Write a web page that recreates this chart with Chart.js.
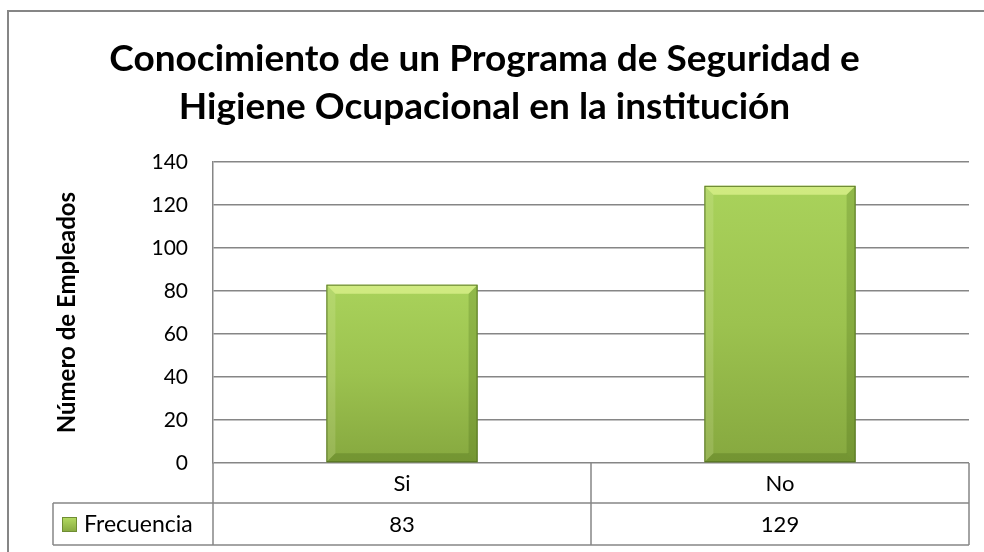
<!DOCTYPE html>
<html>
<head>
<meta charset="utf-8">
<script src="https://cdn.jsdelivr.net/npm/chart.js@4.4.0/dist/chart.umd.min.js"></script>
<style>
  html, body { margin: 0; padding: 0; background: #fff; }
</style>
</head>
<body>
<canvas id="chart" width="984" height="552"></canvas>
<script>
const categories = ['Si', 'No'];
const frecuencia = [83, 129];
const seriesName = 'Frecuencia';
const yTicks = [0, 20, 40, 60, 80, 100, 120, 140];
const titleLines = ['Conocimiento de un Programa de Seguridad e', 'Higiene Ocupacional en la institución'];
const yTitle = 'Número de Empleados';

const FONT = 'Lato, "Open Sans", sans-serif';
const LINE = '#868686';

// gradient for each bar, from its top to the axis
function barFill(context) {
  const chart = context.chart;
  const area = chart.chartArea;
  if (!area || context.parsed == null) return '#98bd4c';
  const top = chart.scales.y.getPixelForValue(context.parsed.y);
  const g = chart.ctx.createLinearGradient(0, top, 0, area.bottom);
  g.addColorStop(0, '#a9d25b');
  g.addColorStop(0.5, '#9cc24f');
  g.addColorStop(1, '#86a83f');
  return g;
}

const frame = {
  id: 'frame',
  beforeDraw(chart) {
    const ctx = chart.ctx;
    ctx.save();
    ctx.strokeStyle = LINE;
    ctx.lineWidth = 2;
    ctx.beginPath();
    ctx.moveTo(8, 560);
    ctx.lineTo(8, 11);
    ctx.lineTo(990, 11);
    ctx.stroke();
    ctx.restore();
  }
};

function poly(ctx, pts, fill) {
  ctx.beginPath();
  ctx.moveTo(pts[0][0], pts[0][1]);
  for (let i = 1; i < pts.length; i++) ctx.lineTo(pts[i][0], pts[i][1]);
  ctx.closePath();
  ctx.fillStyle = fill;
  ctx.fill();
}

const bevel = {
  id: 'bevel',
  afterDatasetsDraw(chart) {
    const ctx = chart.ctx;
    ctx.save();
    chart.getDatasetMeta(0).data.forEach(bar => {
      const l = bar.x - bar.width / 2, r = bar.x + bar.width / 2;
      const t = bar.y, b = bar.base, d = 9;
      poly(ctx, [[l, t], [r, t], [r - d, t + d], [l + d, t + d]], 'rgba(240,255,160,0.55)');
      poly(ctx, [[l, t], [l + d, t + d], [l + d, b - d], [l, b]], 'rgba(255,255,220,0.14)');
      poly(ctx, [[r, t], [r, b], [r - d, b - d], [r - d, t + d]], 'rgba(40,70,0,0.18)');
      poly(ctx, [[l, b], [l + d, b - d], [r - d, b - d], [r, b]], 'rgba(40,70,0,0.2)');
      ctx.strokeStyle = 'rgba(80,110,30,0.9)';
      ctx.lineWidth = 1;
      ctx.strokeRect(l + 0.5, t + 0.5, r - l - 1, b - t - 1);
    });
    ctx.restore();
  }
};

const dataTable = {
  id: 'dataTable',
  afterDraw(chart) {
    const ctx = chart.ctx;
    const a = chart.chartArea;
    const x = chart.scales.x;
    const r1 = a.bottom, r2 = a.bottom + 40, r3 = a.bottom + 82;
    const legendLeft = 53;
    const centers = categories.map((c, i) => x.getPixelForValue(i));
    const cuts = [a.left];
    for (let i = 0; i < centers.length - 1; i++) cuts.push((centers[i] + centers[i + 1]) / 2);
    cuts.push(a.right);

    ctx.save();
    ctx.strokeStyle = LINE;
    ctx.lineWidth = 1.5;
    ctx.beginPath();
    cuts.forEach(px => { ctx.moveTo(px, r1); ctx.lineTo(px, r3); });
    ctx.moveTo(legendLeft, r2); ctx.lineTo(legendLeft, r3);
    ctx.moveTo(legendLeft, r2); ctx.lineTo(a.right, r2);
    ctx.moveTo(legendLeft, r3); ctx.lineTo(a.right, r3);
    ctx.stroke();

    ctx.fillStyle = '#000';
    ctx.font = '22px ' + FONT;
    ctx.textAlign = 'center';
    ctx.textBaseline = 'middle';
    const ds = chart.data.datasets[0];
    centers.forEach((cx, i) => {
      ctx.fillText(chart.data.labels[i], cx, (r1 + r2) / 2 + 1);
      ctx.fillText(String(ds.data[i]), cx, (r2 + r3) / 2 + 1);
    });

    // legend key
    const kx = 62, ky = (r2 + r3) / 2 - 7, ks = 15;
    const g = ctx.createLinearGradient(0, ky, 0, ky + ks);
    g.addColorStop(0, '#b5dc63');
    g.addColorStop(1, '#86a83f');
    ctx.fillStyle = g;
    ctx.fillRect(kx, ky, ks, ks);
    ctx.strokeStyle = '#6f8d33';
    ctx.lineWidth = 1;
    ctx.strokeRect(kx + 0.5, ky + 0.5, ks - 1, ks - 1);
    ctx.fillStyle = '#000';
    ctx.textAlign = 'left';
    ctx.font = '23px ' + FONT;
    ctx.fillText(ds.label, 84, (r2 + r3) / 2 + 1);
    ctx.restore();
  }
};

new Chart(document.getElementById('chart'), {
  type: 'bar',
  data: {
    labels: categories,
    datasets: [{
      label: seriesName,
      data: frecuencia,
      backgroundColor: barFill,
      borderWidth: 0,
      barPercentage: 0.4,
      categoryPercentage: 1
    }]
  },
  options: {
    responsive: false,
    devicePixelRatio: 1,
    animation: false,
    layout: { padding: { left: 0, right: 15, top: 0, bottom: 89 } },
    plugins: {
      legend: { display: false },
      tooltip: { enabled: false },
      title: {
        display: true,
        text: titleLines,
        color: '#000',
        font: { family: FONT, size: 37, weight: 'bold', lineHeight: 1.3 },
        padding: { top: 35, bottom: 31 }
      }
    },
    scales: {
      x: {
        display: false
      },
      y: {
        min: yTicks[0],
        max: yTicks[yTicks.length - 1],
        afterFit(scale) { scale.width = 213; },
        ticks: {
          stepSize: yTicks[1] - yTicks[0],
          padding: 25,
          color: '#000',
          font: { family: FONT, size: 21 }
        },
        grid: { color: LINE, lineWidth: 1.5, drawTicks: false },
        border: { display: true, color: LINE, width: 1.5 },
        title: {
          display: true,
          text: yTitle,
          color: '#000',
          font: { family: FONT, size: 24, weight: 'bold', lineHeight: 1.2 },
          padding: { top: 53, bottom: 0 }
        }
      }
    }
  },
  plugins: [frame, bevel, dataTable]
});
</script>
</body>
</html>
